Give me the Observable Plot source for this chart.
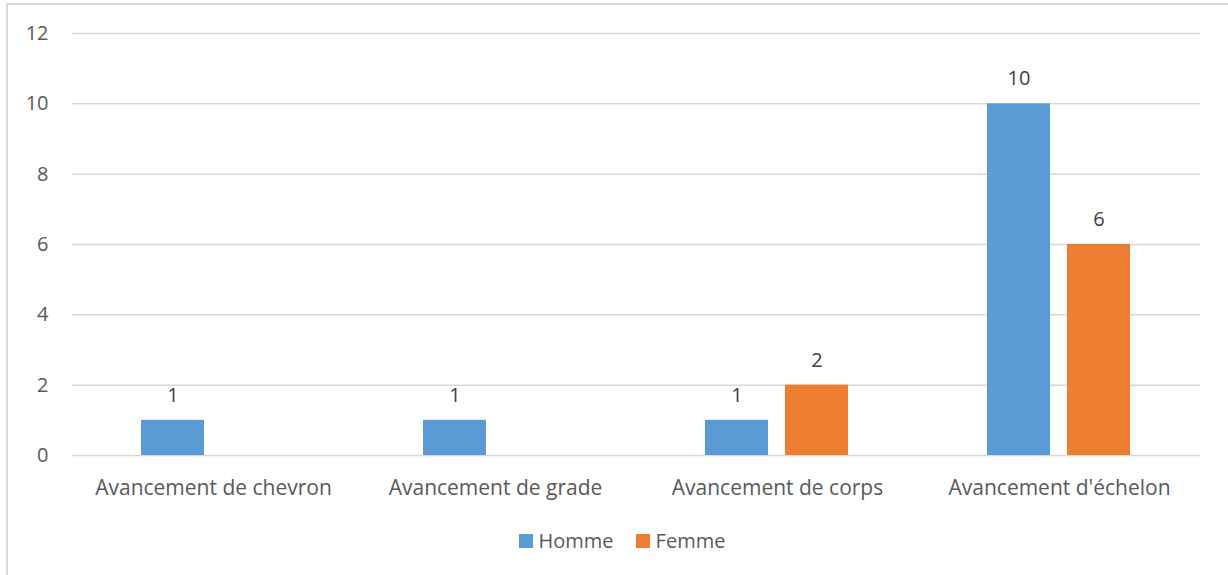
<!DOCTYPE html>
<html>
<head>
<meta charset="utf-8">
<script src="https://cdn.jsdelivr.net/npm/d3@7"></script>
<script src="https://cdn.jsdelivr.net/npm/@observablehq/plot@0.6"></script>
<style>
  html, body { margin: 0; padding: 0; background: #fff; }
  body { width: 1228px; height: 575px; position: relative; overflow: hidden; font-family: "Open Sans", sans-serif; }
  #frame { position: absolute; left: 6px; top: 3px; width: 1260px; height: 620px; border-left: 2px solid #d9d9d9; border-top: 2px solid #d9d9d9; box-sizing: border-box; }
  #chart { position: absolute; left: 0; top: 0; }
  #legend { position: absolute; left: 0; top: 527px; width: 1244px; display: flex; justify-content: center; align-items: center; font-size: 20px; color: #595959; }
  .item { display: flex; align-items: center; margin: 0 11px; }
  .sw { width: 14px; height: 14px; margin-right: 6px; }
</style>
</head>
<body>
<div id="frame"></div>
<div id="chart"></div>
<div id="legend"></div>
<script>
const categories = ["Avancement de chevron", "Avancement de grade", "Avancement de corps", "Avancement d'échelon"];
const series = ["Homme", "Femme"];
const hommeValues = [1, 1, 1, 10];
const femmeValues = [null, null, 2, 6];
const colors = ["#5B9BD5", "#ED7D31"];
const yTicks = [0, 2, 4, 6, 8, 10, 12];

const data = [];
categories.forEach((c, i) => {
  if (hommeValues[i] != null) data.push({cat: c, series: "Homme", value: hommeValues[i]});
  if (femmeValues[i] != null) data.push({cat: c, series: "Femme", value: femmeValues[i]});
});

const chart = Plot.plot({
  width: 1228,
  height: 510,
  marginLeft: 71,
  marginRight: 28,
  marginTop: 33,
  marginBottom: 55,
  style: {fontFamily: "'Open Sans', sans-serif", fontSize: "20px", color: "#595959", background: "transparent"},
  fx: {domain: categories, padding: 0, label: null},
  x: {domain: series, paddingInner: 0.21, paddingOuter: 0.85, axis: null},
  y: {domain: [0, 12], label: null},
  color: {domain: series, range: colors},
  marks: [
    Plot.gridY(yTicks, {stroke: "#d9d9d9", strokeOpacity: 1, strokeWidth: 1.5}),
    Plot.axisY(yTicks, {tickSize: 0, tickPadding: 24, label: null, fill: "#595959", fontSize: 20}),
    Plot.axisFx({anchor: "bottom", tickSize: 0, tickPadding: 25, label: null, fill: "#595959", fontSize: 21}),
    Plot.barY(data, {fx: "cat", x: "series", y: "value", fill: "series"}),
    Plot.text(data, {fx: "cat", x: "series", y: "value", text: d => String(d.value), dy: -25, fill: "#404040", fontSize: 20})
  ]
});
document.getElementById("chart").appendChild(chart);

const legend = document.getElementById("legend");
series.forEach((s, i) => {
  const item = document.createElement("div");
  item.className = "item";
  const sw = document.createElement("span");
  sw.className = "sw";
  sw.style.background = colors[i];
  const label = document.createElement("span");
  label.textContent = s;
  item.appendChild(sw);
  item.appendChild(label);
  legend.appendChild(item);
});
</script>
</body>
</html>
